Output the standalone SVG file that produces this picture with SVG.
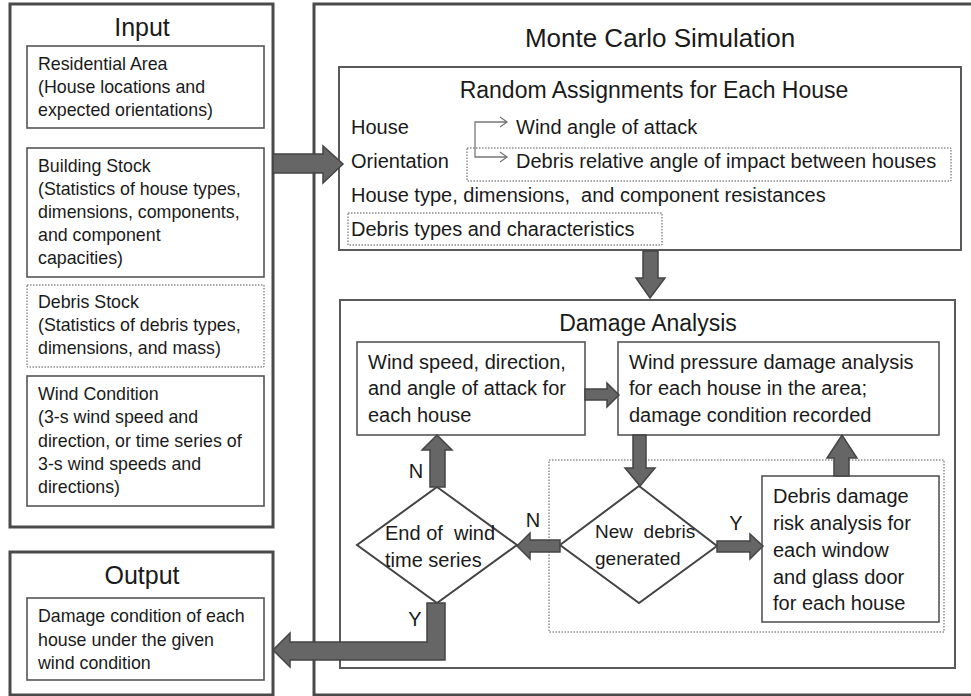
<svg xmlns="http://www.w3.org/2000/svg" width="971" height="696" viewBox="0 0 971 696">
<style>
text{font-family:"Liberation Sans",Arial,sans-serif;fill:#1a1a1a}
.outer{fill:none;stroke:#4a4a4a;stroke-width:3}
.sec{fill:none;stroke:#5a5a5a;stroke-width:2}
.box{fill:#fff;stroke:#555;stroke-width:1.6}
.dot{fill:none;stroke:#555;stroke-width:1;stroke-dasharray:1.5 1.5}
.dia{fill:#fff;stroke:#444;stroke-width:2}
.big{fill:#666;stroke:#444;stroke-width:1.5;stroke-linejoin:miter}
.thin{fill:none;stroke:#777;stroke-width:1.3}
.t18{font-size:17.8px}
.t20{font-size:20px}
.h25{font-size:25px;text-anchor:middle}
.h23{font-size:23px;text-anchor:middle}
.lbl{font-size:20px;text-anchor:middle}
</style>
<rect width="971" height="696" fill="#fff"/>

<g id="input">
<rect class="outer" x="10" y="4" width="263" height="523"/>
<text class="h25" x="142" y="36">Input</text>
</g>
<g id="residential-area">
<rect class="box" x="27" y="46" width="237" height="82"/>
<text class="t18"><tspan x="38" y="70">Residential Area</tspan><tspan x="38" y="93">(House locations and</tspan><tspan x="38" y="116">expected orientations)</tspan></text>
</g>
<g id="building-stock">
<rect class="box" x="27" y="148" width="237" height="129"/>
<text class="t18"><tspan x="38" y="172">Building Stock</tspan><tspan x="38" y="195">(Statistics of house types,</tspan><tspan x="38" y="218">dimensions, components,</tspan><tspan x="38" y="241">and component</tspan><tspan x="38" y="264">capacities)</tspan></text>
</g>
<g id="debris-stock">
<rect class="dot" x="27" y="285" width="237" height="82"/>
<text class="t18"><tspan x="38" y="308">Debris Stock</tspan><tspan x="38" y="331">(Statistics of debris types,</tspan><tspan x="38" y="354">dimensions, and mass)</tspan></text>
</g>
<g id="wind-condition">
<rect class="box" x="27" y="376" width="237" height="130"/>
<text class="t18"><tspan x="38" y="400">Wind Condition</tspan><tspan x="38" y="423">(3-s wind speed and</tspan><tspan x="38" y="447">direction, or time series of</tspan><tspan x="38" y="470">3-s wind speeds and</tspan><tspan x="38" y="493">directions)</tspan></text>
</g>

<g id="output">
<rect class="outer" x="10" y="552" width="263" height="143"/>
<text class="h25" x="142" y="584">Output</text>
</g>
<g id="damage-condition">
<rect class="box" x="27" y="598" width="237" height="82"/>
<text class="t18"><tspan x="38" y="622">Damage condition of each</tspan><tspan x="38" y="646">house under the given</tspan><tspan x="38" y="669">wind condition</tspan></text>
</g>

<g id="monte-carlo">
<rect class="outer" x="314" y="4" width="700" height="691"/>
<text x="660" y="47" style="font-size:26px;text-anchor:middle">Monte Carlo Simulation</text>
</g>

<g id="random-assignments">
<rect class="sec" x="339" y="67" width="622" height="183"/>
<text class="h23" x="654" y="98">Random Assignments for Each House</text>
<text class="t20" x="351" y="134">House</text>
<text class="t20" x="351" y="168">Orientation</text>
<text class="t20" x="516" y="134">Wind angle of attack</text>
<rect class="dot" x="467" y="148" width="484" height="33"/>
<text class="t20" x="516" y="168">Debris relative angle of impact between houses</text>
<text class="t20" x="351" y="202" xml:space="preserve">House type, dimensions,  and component resistances</text>
<rect class="dot" x="348" y="213" width="314" height="32"/>
<text class="t20" x="351" y="236">Debris types and characteristics</text>
<path class="thin" d="M507,122 H475 V157 H507 M500,117 L507,122 L500,127 M500,152 L507,157 L500,162"/>
</g>

<g id="damage-analysis">
<rect class="sec" x="340" y="300" width="615" height="368"/>
<text class="h23" x="648" y="331">Damage Analysis</text>
<rect class="dot" x="549" y="460" width="395" height="172"/>
</g>

<g id="wind-speed">
<rect class="box" x="357" y="342" width="228" height="93"/>
<text class="t20"><tspan x="368" y="369">Wind speed, direction,</tspan><tspan x="368" y="395">and angle of attack for</tspan><tspan x="368" y="422">each house</tspan></text>
</g>
<g id="wind-pressure">
<rect class="box" x="618" y="342" width="321" height="93"/>
<text class="t20"><tspan x="629" y="369">Wind pressure damage analysis</tspan><tspan x="629" y="395">for each house in the area;</tspan><tspan x="629" y="422">damage condition recorded</tspan></text>
</g>
<g id="end-of-wind">
<polygon class="dia" points="437,487 517,545 437,603 357,545"/>
<text class="t20" xml:space="preserve"><tspan x="385" y="540">End of  wind</tspan><tspan x="385" y="567">time series</tspan></text>
</g>
<g id="new-debris">
<polygon class="dia" points="639,486 717,546 639,603 560,545"/>
<text style="font-size:19px" xml:space="preserve"><tspan x="595" y="538">New  debris</tspan><tspan x="595" y="565">generated</tspan></text>
</g>
<g id="debris-damage">
<rect class="box" x="762" y="476" width="177" height="146"/>
<text class="t20"><tspan x="773" y="503">Debris damage</tspan><tspan x="773" y="530">risk analysis for</tspan><tspan x="773" y="557">each window</tspan><tspan x="773" y="584">and glass door</tspan><tspan x="773" y="610">for each house</tspan></text>
</g>

<g id="connectors">
<polygon class="big" points="273,154 323,154 323,146 343,164 323,183 323,173 273,173"/>
<polygon class="big" points="643,251 658,251 658,278 665,278 650,298 636,278 643,278"/>
<polygon class="big" points="585,389 607,389 607,383 619,395 607,407 607,400 585,400"/>
<polygon class="big" points="633,435 646,435 646,468 655,468 640,486 625,468 633,468"/>
<polygon class="big" points="834,476 849,476 849,458 857,458 842,435 827,458 834,458"/>
<polygon class="big" points="430,487 445,487 445,450 452,450 437,435 422,450 430,450"/>
<polygon class="big" points="560,540 530,540 530,533 517,546 530,559 530,552 560,552"/>
<polygon class="big" points="717,541 750,541 750,534 763,546 750,559 750,552 717,552"/>
<polygon class="big" points="427,603 445,603 445,660 290,660 290,667 273,650 290,633 290,642 427,642"/>
<text class="lbl" x="416" y="478">N</text>
<text class="lbl" x="533" y="527">N</text>
<text class="lbl" x="736" y="530">Y</text>
<text class="lbl" x="415" y="626">Y</text>
</g>
</svg>
